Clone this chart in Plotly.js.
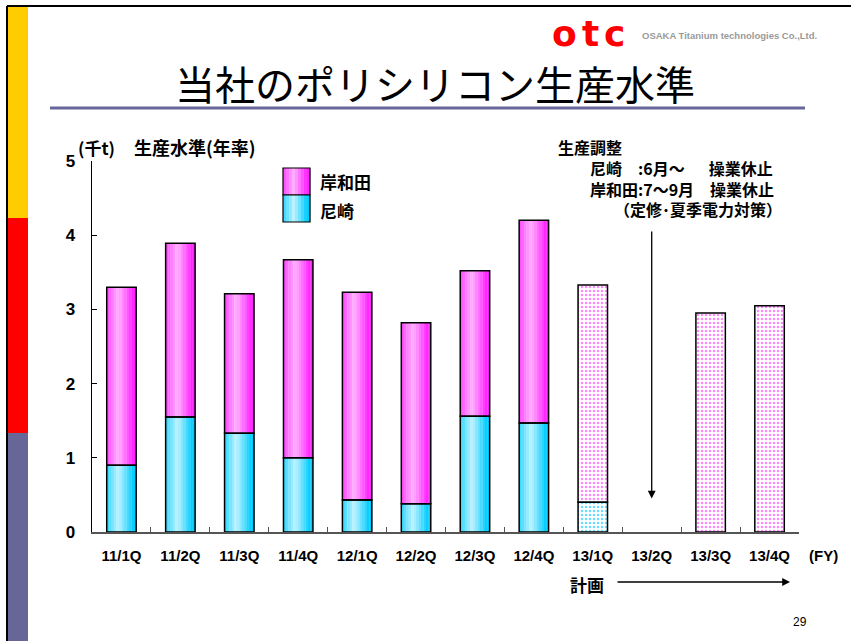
<!DOCTYPE html>
<html>
<head>
<meta charset="utf-8">
<script src="https://cdn.plot.ly/plotly-3.0.1.min.js"></script>
<style>html,body{margin:0;padding:0;background:#fff;}#chart{width:851px;height:641px;}</style>
</head>
<body>
<div id="chart"></div>
<script>
// ---- data ----
const categories = ['11/1Q','11/2Q','11/3Q','11/4Q','12/1Q','12/2Q','12/3Q','12/4Q','13/1Q','13/2Q','13/3Q','13/4Q'];
const amagasaki = [0.90,1.55,1.33,1.00,0.43,0.38,1.56,1.47,0.40,0,0,0];   // 尼崎
const kishiwada = [2.40,2.34,1.88,2.67,2.80,2.44,1.96,2.73,2.93,0,2.95,3.05]; // 岸和田
const planFrom = '13/1Q';
const yTicks = [0,1,2,3,4,5];
const seriesNames = ['岸和田','尼崎'];

// ---- geometry helpers (layout only) ----
const W = 851, H = 641, L = 92, R = 52, T = 161, B = 109;
const PW = W - L - R, PH = H - T - B;
const px = v => (v - L) / PW;
const py = v => (H - B - v) / PH;
const JP = '"Noto Sans CJK JP", "Noto Sans", sans-serif';

const planIdx = categories.indexOf(planFrom);
const isPlan = categories.map((c, i) => i >= planIdx);
const BW = 0.5, N = 12;

function mix(a, b, t) {
  const pa = a.match(/\w\w/g).map(h => parseInt(h, 16));
  const pb = b.match(/\w\w/g).map(h => parseInt(h, 16));
  return 'rgb(' + pa.map((v, k) => Math.round(v + (pb[k] - v) * t)).join(',') + ')';
}
function lightAt(t) { return t < 0.4 ? 0.25 + 0.75 * (t / 0.4) : Math.max(0, 1 - (t - 0.4) / 0.5); }

const kBase = amagasaki.slice();
const traces = [];
function addStripes(vals, base, dark, light) {
  for (let i = 0; i < N; i++) {
    const t = (i + 0.5) / N;
    traces.push({
      type: 'bar', x: categories,
      y: vals.map((v, j) => (isPlan[j] || v === 0) ? null : v),
      base: base,
      width: BW / N + 0.004, offset: -BW / 2 + i * BW / N,
      marker: {color: mix(dark, light, lightAt(t) * 0.88), line: {width: 0}},
      showlegend: false, hoverinfo: 'skip'
    });
  }
}
addStripes(amagasaki, null, '00ccff', 'd8f8ff');
addStripes(kishiwada, kBase, 'ff22ff', 'ffc4ff');

function addPlan(vals, base, fg) {
  traces.push({
    type: 'bar', x: categories,
    y: vals.map((v, j) => (!isPlan[j] || v === 0) ? null : v),
    base: base, width: BW, offset: -BW / 2,
    marker: {color: '#ffffff', line: {width: 0},
      pattern: {shape: '.', fgcolor: fg, bgcolor: '#ffffff', size: 4, solidity: 0.3}},
    showlegend: false, hoverinfo: 'skip'
  });
}
addPlan(amagasaki, null, '#66ddff');
addPlan(kishiwada, kBase, '#ff88ff');

function addOutline(vals, base) {
  traces.push({
    type: 'bar', x: categories,
    y: vals.map(v => v === 0 ? null : v),
    base: base, width: BW, offset: -BW / 2,
    marker: {color: 'rgba(0,0,0,0)', line: {color: '#000', width: 1.5}},
    showlegend: false, hoverinfo: 'skip'
  });
}
addOutline(amagasaki, null);
addOutline(kishiwada, kBase);

// ---- decorations ----
const shapes = [];
function rectPx(x0, y0, x1, y1, fill, line) {
  shapes.push({type: 'rect', xref: 'paper', yref: 'paper', x0: px(x0), x1: px(x1), y0: py(y0), y1: py(y1),
    fillcolor: fill, line: line || {width: 0}, layer: 'above'});
}
function linePx(x0, y0, x1, y1, color, width) {
  shapes.push({type: 'line', xref: 'paper', yref: 'paper', x0: px(x0), x1: px(x1), y0: py(y0), y1: py(y1),
    line: {color: color, width: width}, layer: 'above'});
}
// left strip
rectPx(8, 6, 28, 218, '#ffcc00');
rectPx(8, 218, 28, 433, '#ff0000');
rectPx(8, 433, 28, 641, '#666699');
linePx(7, 6, 7, 641, '#000', 2);
linePx(7, 6, 851, 6, '#000', 2);
// title rule
linePx(50, 108, 805, 108, '#666699', 3);
// legend boxes with gradient
function legendBox(x0, y0, x1, y1, dark, light) {
  const n = 9, w = (x1 - x0) / n;
  for (let i = 0; i < n; i++) {
    const t = (i + 0.5) / n;
    rectPx(x0 + i * w, y0, x0 + (i + 1) * w + 0.3, y1, mix(dark, light, lightAt(t) * 0.88));
  }
  rectPx(x0, y0, x1, y1, 'rgba(0,0,0,0)', {color: '#000', width: 1.2});
}
legendBox(283, 168, 310, 195, 'ff22ff', 'ffc4ff');
legendBox(283, 195, 310, 222, '00ccff', 'd8f8ff');

const annotations = [];
function textPx(x, y, text, opts) {
  opts = opts || {};
  annotations.push({xref: 'paper', yref: 'paper', x: px(x), y: py(y), text: text, showarrow: false,
    xanchor: opts.xanchor || 'left', yanchor: opts.yanchor || 'middle', align: 'left',
    font: Object.assign({family: JP, size: 16, color: '#000', weight: 'bold'}, opts.font || {})});
}
textPx(76, 147, '(千t)', {font: {size: 17}});
textPx(132, 147, '生産水準(年率)', {font: {size: 18}});
textPx(318, 181, seriesNames[0], {font: {size: 17}});
textPx(318, 210, seriesNames[1], {font: {size: 17}});
textPx(556, 178,
  '生産調整<br>' +
  '\u3000\u3000尼崎\u3000:6月～\u3000\u2002操業休止<br>' +
  '\u3000\u3000岸和田:7～9月\u3000操業休止<br>' +
  '\u3000\u3000\u3000\u3000（定修･夏季電力対策）');
textPx(807, 555, '(FY)', {font: {family: 'Liberation Sans, Arial, sans-serif', size: 15}});
textPx(568, 584, '計画', {font: {size: 17}});
textPx(800, 622, '29', {xanchor: 'center', font: {family: 'Liberation Sans, Arial, sans-serif', size: 12, weight: 'normal'}});
// logo
const logoFont = {family: 'DejaVu Sans, sans-serif', size: 36, color: '#ff0000', weight: 'bold'};
textPx(564, 33, 'o', {xanchor: 'center', font: logoFont});
textPx(590, 33, 't', {xanchor: 'center', font: logoFont});
textPx(614, 33, 'c', {xanchor: 'center', font: logoFont});
textPx(640, 35, 'OSAKA Titanium technologies Co.,Ltd.', {font: {family: 'Liberation Sans, Arial, sans-serif', size: 9.5, color: '#9a9a9a', weight: 'bold'}});
// arrows
annotations.push({xref: 'x', yref: 'y', x: 9, y: 0.45, axref: 'x', ayref: 'y', ax: 9, ay: 4.07,
  text: '', showarrow: true, arrowhead: 2, arrowsize: 1.2, arrowwidth: 1.3, arrowcolor: '#000'});
annotations.push({xref: 'paper', yref: 'paper', x: px(790), y: py(582), ax: -174, ay: 0,
  text: '', showarrow: true, arrowhead: 2, arrowsize: 1.2, arrowwidth: 1.3, arrowcolor: '#000'});

const layout = {
  width: W, height: H,
  margin: {l: L, r: R, t: T, b: B},
  paper_bgcolor: '#ffffff', plot_bgcolor: '#ffffff',
  barmode: 'overlay',
  showlegend: false,
  title: {text: '当社のポリシリコン生産水準', xref: 'container', yref: 'container',
    x: 435 / W, y: 1 - 86 / H, xanchor: 'center', yanchor: 'middle',
    font: {family: JP, size: 40, color: '#000'}},
  xaxis: {type: 'category', categoryorder: 'array', categoryarray: categories,
    range: [-0.5, categories.length - 0.5],
    showline: true, linecolor: '#555', linewidth: 1.5,
    ticks: 'inside', tickson: 'boundaries', ticklen: 5, tickcolor: '#555', tickwidth: 1,
    ticklabelstandoff: 9,
    tickfont: {family: 'Liberation Sans, Arial, sans-serif', size: 15, color: '#000', weight: 'bold'},
    showgrid: false, zeroline: false, fixedrange: true},
  yaxis: {range: [0, 5], tickvals: yTicks, ticktext: yTicks.map(String),
    showline: true, linecolor: '#000', linewidth: 1.5,
    ticks: 'inside', ticklen: 5, tickcolor: '#000', tickwidth: 1,
    ticklabelstandoff: 12,
    tickfont: {family: 'Liberation Sans, Arial, sans-serif', size: 17, color: '#000', weight: 'bold'},
    showgrid: false, zeroline: false, fixedrange: true},
  shapes: shapes,
  annotations: annotations
};

Plotly.newPlot('chart', traces, layout, {displayModeBar: false, staticPlot: true});
</script>
</body>
</html>
